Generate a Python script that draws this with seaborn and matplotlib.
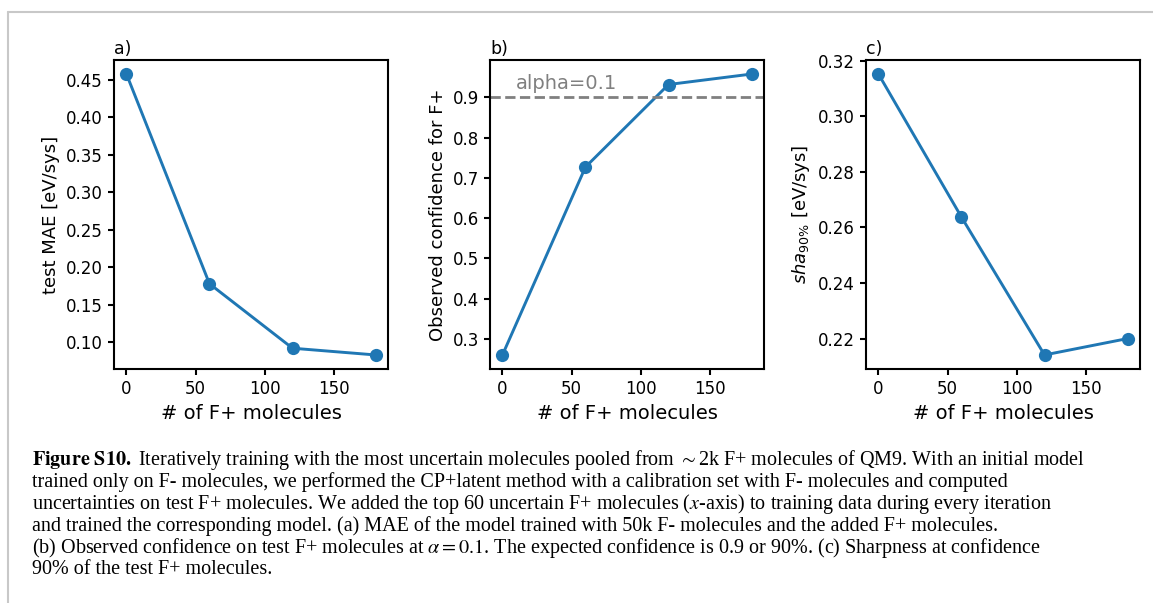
import matplotlib
matplotlib.use("Agg")
import matplotlib.pyplot as plt
from matplotlib.lines import Line2D
import seaborn as sns
import pandas as pd

# ---- data ----
n_added = [0, 60, 120, 180]
test_mae = [0.458, 0.178, 0.092, 0.083]
obs_conf = [0.260, 0.727, 0.932, 0.958]
sharpness = [0.3152, 0.2637, 0.2141, 0.2200]
panel_titles = ["a)", "b)", "c)"]
xlabel = "# of F+ molecules"
ylabels = ["test MAE [eV/sys]", "Observed confidence for F+", r"$sha_{90\%}$ [eV/sys]"]
alpha_level = 0.9
alpha_text = "alpha=0.1"

caption_lines = [
    r"$\mathbf{Figure\ S10.}$ Iteratively training with the most uncertain molecules pooled from ${\sim}$2k F+ molecules of QM9. With an initial model",
    "trained only on F- molecules, we performed the CP+latent method with a calibration set with F- molecules and computed",
    r"uncertainties on test F+ molecules. We added the top 60 uncertain F+ molecules ($x$-axis) to training data during every iteration",
    "and trained the corresponding model. (a) MAE of the model trained with 50k F- molecules and the added F+ molecules.",
    r"(b) Observed confidence on test F+ molecules at $\alpha = 0.1$. The expected confidence is 0.9 or 90%. (c) Sharpness at confidence",
    "90% of the test F+ molecules.",
]

sns.set_theme(style="ticks", rc={
    "axes.linewidth": 1.5,
    "xtick.major.width": 1.5, "ytick.major.width": 1.5,
    "xtick.major.size": 4.5, "ytick.major.size": 4.5,
    "axes.edgecolor": "black",
    "xtick.color": "black", "ytick.color": "black",
    "axes.labelcolor": "black", "text.color": "black",
    "xtick.labelsize": 12, "ytick.labelsize": 12,
    "mathtext.fontset": "dejavusans",
})
plt.rcParams["font.family"] = ["DejaVu Sans"]

W, H = 1153, 603
fig = plt.figure(figsize=(W / 100, H / 100), dpi=100)

lefts = [114, 490, 866]
ax_w, ax_top, ax_bot = 274, 60, 369
series = [test_mae, obs_conf, sharpness]
blue = "#1f77b4"

for i, (lx, ys) in enumerate(zip(lefts, series)):
    ax = fig.add_axes([lx / W, 1 - ax_bot / H, ax_w / W, (ax_bot - ax_top) / H])
    df = pd.DataFrame({"x": n_added, "y": ys})
    sns.lineplot(data=df, x="x", y="y", ax=ax, color=blue, linewidth=2.1,
                 marker="o", markersize=9.5, markeredgewidth=0)
    ax.set_xticks([0, 50, 100, 150])
    ax.set_xlabel(xlabel, fontsize=14)
    ax.set_ylabel(ylabels[i], fontsize=13)
    ax.set_title(panel_titles[i], loc="left", fontsize=12.5, pad=4)
    for s in ax.spines.values():
        s.set_visible(True)
    if i == 0:
        ax.set_yticks([0.10, 0.15, 0.20, 0.25, 0.30, 0.35, 0.40, 0.45])
    if i == 1:
        ax.axhline(alpha_level, color="gray", linestyle="--", linewidth=2)
        ax.text(10, 0.91, alpha_text, color="gray", fontsize=14, va="bottom")
        ax.set_yticks([0.3, 0.4, 0.5, 0.6, 0.7, 0.8, 0.9])
    if i == 2:
        ax.set_yticks([0.22, 0.24, 0.26, 0.28, 0.30, 0.32])

# caption
y0 = 465
for k, line in enumerate(caption_lines):
    fig.text(32 / W, 1 - (y0 + k * 21.9) / H, line, fontsize=14.5,
             family=["Liberation Serif", "DejaVu Serif"], va="baseline", ha="left",
             math_fontfamily="stix")

# page frame lines
fig.add_artist(Line2D([8 / W, 1], [1 - 12 / H, 1 - 12 / H], transform=fig.transFigure,
                      color="#c8c8c8", linewidth=1.5))
fig.add_artist(Line2D([8 / W, 8 / W], [0, 1 - 12 / H], transform=fig.transFigure,
                      color="#c8c8c8", linewidth=1.5))

fig.savefig("out.png", dpi=100)
